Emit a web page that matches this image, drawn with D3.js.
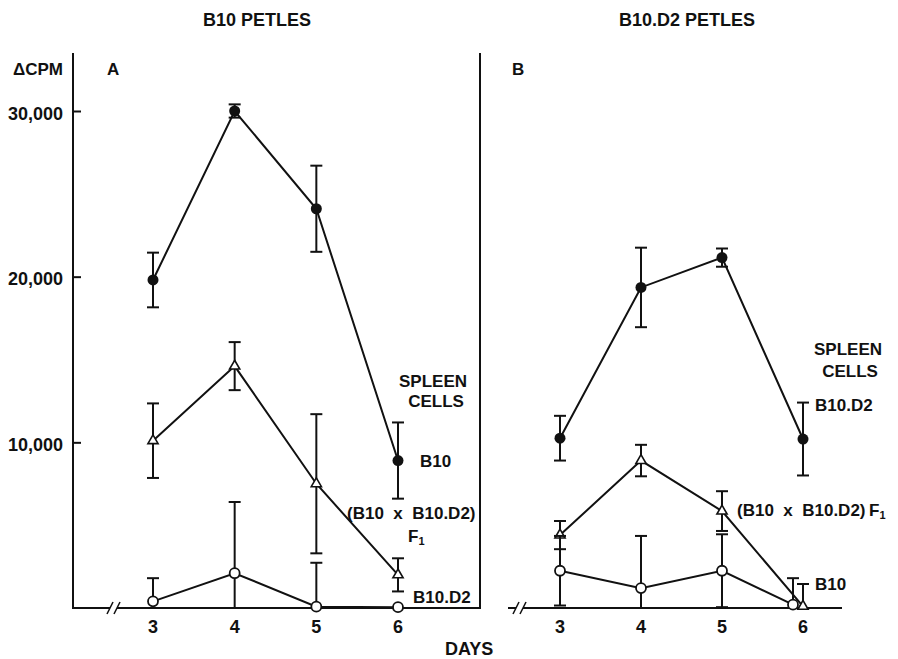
<!DOCTYPE html>
<html>
<head>
<meta charset="utf-8">
<script src="https://cdn.jsdelivr.net/npm/d3@7"></script>
<style>
  html, body { margin: 0; padding: 0; background: #fff; }
  svg { display: block; }
  text { font-family: "Liberation Sans", Arial, Helvetica, sans-serif; font-weight: bold; fill: #111; }
</style>
</head>
<body>
<svg id="chart" width="898" height="659"></svg>
<script>
// Proliferation (ΔCPM) of spleen cells over days of culture
const days = [3, 4, 5, 6];
const yTicks = [10000, 20000, 30000];
const yTickLabels = ["10,000", "20,000", "30,000"];

// Panel A: B10 PETLES
const aB10 = [19800, 30000, 24100, 8900];
const aB10Err = [1650, 400, 2600, 2300];
const aF1 = [10100, 14600, 7500, 2000];
const aF1Err = [2250, 1450, 4200, 1000];
const aB10D2 = [400, 2100, 80, 50];
const aB10D2Err = [1400, 4300, 2650, 0];

// Panel B: B10.D2 PETLES
const bB10D2 = [10250, 19350, 21150, 10200];
const bB10D2Err = [1350, 2400, 550, 2200];
const bF1 = [4400, 8900, 5850, 100];
const bF1Err = [850, 950, 1200, 1350];
const bB10 = [2250, 1200, 2250, 200];
const bB10Err = [2100, 3150, 2200, 1600];

const svg = d3.select("#chart");
svg.append("rect").attr("width", 898).attr("height", 659).attr("fill", "#fff");

const y = d3.scaleLinear().domain([0, 30000]).range([608, 111]);
const yTopValue = 33500;

const ink = "#111";
const lw = 2;

// Left y axis
const yAxis = d3.axisRight(y).tickValues(yTicks).tickSize(8).tickFormat("");
const gy = svg.append("g").attr("transform", "translate(73,0)").call(yAxis);
gy.select(".domain").remove();
gy.selectAll("line").attr("stroke", ink).attr("stroke-width", lw);
svg.append("line").attr("x1", 73).attr("x2", 73)
  .attr("y1", y(yTopValue)).attr("y2", y(0) + 1)
  .attr("stroke", ink).attr("stroke-width", lw);
svg.selectAll("text.ytick").data(yTicks).join("text")
  .attr("class", "ytick")
  .attr("x", 63).attr("y", d => y(d) + 8.5)
  .attr("text-anchor", "end").attr("font-size", 18)
  .text((d, i) => yTickLabels[i]);

svg.append("text").attr("x", 13).attr("y", 75).attr("font-size", 17).text("ΔCPM");

// Divider between the panels
svg.append("line").attr("x1", 480).attr("x2", 480)
  .attr("y1", y(yTopValue)).attr("y2", y(0) + 1)
  .attr("stroke", ink).attr("stroke-width", lw);

const panels = [
  {
    key: "A", title: "B10 PETLES", titleX: 257, letterX: 107,
    range: [153, 398], base: [73, 480], breakX: [110, 117],
    series: [
      { vals: aB10, err: aB10Err, mark: "filled" },
      { vals: aF1, err: aF1Err, mark: "triangle" },
      { vals: aB10D2, err: aB10D2Err, mark: "open" }
    ]
  },
  {
    key: "B", title: "B10.D2 PETLES", titleX: 687, letterX: 512,
    range: [560, 803], base: [508, 842], breakX: [516, 523],
    series: [
      { vals: bB10D2, err: bB10D2Err, mark: "filled" },
      { vals: bF1, err: bF1Err, mark: "triangle" },
      { vals: bB10, err: bB10Err, mark: "open", lastShift: -10 }
    ]
  }
];

panels.forEach(p => {
  const x = d3.scaleLinear().domain([3, 6]).range(p.range);
  const g = svg.append("g").attr("class", "panel-" + p.key);

  g.append("text").attr("x", p.titleX).attr("y", 26)
    .attr("text-anchor", "middle").attr("font-size", 18).text(p.title);
  g.append("text").attr("x", p.letterX).attr("y", 75)
    .attr("font-size", 17).text(p.key);

  // Baseline with axis break
  g.append("line").attr("x1", p.base[0]).attr("x2", p.base[1])
    .attr("y1", y(0)).attr("y2", y(0))
    .attr("stroke", ink).attr("stroke-width", lw);
  g.append("rect").attr("x", p.breakX[0]).attr("y", y(0) - 2)
    .attr("width", p.breakX[1] - p.breakX[0]).attr("height", 4).attr("fill", "#fff");
  p.breakX.forEach(bx => {
    g.append("line").attr("x1", bx - 3).attr("x2", bx + 3)
      .attr("y1", y(0) + 6).attr("y2", y(0) - 6)
      .attr("stroke", ink).attr("stroke-width", 1.6);
  });

  // X tick labels
  g.selectAll("text.xtick").data(days).join("text")
    .attr("class", "xtick")
    .attr("x", d => x(d)).attr("y", 633)
    .attr("text-anchor", "middle").attr("font-size", 18).text(d => d);

  p.series.forEach(s => {
    const pts = s.vals.map((v, i) => ({
      px: x(days[i]) + (i === days.length - 1 && s.lastShift ? s.lastShift : 0),
      v, e: s.err[i]
    }));

    g.append("path")
      .attr("d", d3.line().x(d => d.px).y(d => y(d.v))(pts))
      .attr("fill", "none").attr("stroke", ink).attr("stroke-width", lw);

    // Error bars (clipped at zero)
    pts.forEach(d => {
      if (!d.e) return;
      const hi = d.v + d.e, lo = Math.max(0, d.v - d.e);
      g.append("line").attr("x1", d.px).attr("x2", d.px)
        .attr("y1", y(hi)).attr("y2", y(lo))
        .attr("stroke", ink).attr("stroke-width", lw);
      g.append("line").attr("x1", d.px - 6).attr("x2", d.px + 6)
        .attr("y1", y(hi)).attr("y2", y(hi))
        .attr("stroke", ink).attr("stroke-width", lw);
      if (d.v - d.e > 0) {
        g.append("line").attr("x1", d.px - 6).attr("x2", d.px + 6)
          .attr("y1", y(lo)).attr("y2", y(lo))
          .attr("stroke", ink).attr("stroke-width", lw);
      }
    });

    // Markers
    pts.forEach(d => {
      if (s.mark === "filled") {
        g.append("circle").attr("cx", d.px).attr("cy", y(d.v)).attr("r", 5.5).attr("fill", ink);
      } else if (s.mark === "open") {
        g.append("circle").attr("cx", d.px).attr("cy", y(d.v)).attr("r", 5)
          .attr("fill", "#fff").attr("stroke", ink).attr("stroke-width", 1.8);
      } else {
        g.append("path").attr("d", d3.symbol(d3.symbolTriangle, 45)())
          .attr("transform", `translate(${d.px},${y(d.v)})`)
          .attr("fill", "#fff").attr("stroke", ink).attr("stroke-width", 1.6);
      }
    });
  });
});

// Series labels
function label(x, yb, txt, anchor) {
  return svg.append("text").attr("x", x).attr("y", yb).attr("font-size", 17)
    .attr("text-anchor", anchor || "start").style("white-space", "pre").text(txt);
}
function f1Label(x, yb) {
  const t = svg.append("text").attr("x", x).attr("y", yb).attr("font-size", 17);
  t.append("tspan").text("F");
  t.append("tspan").attr("font-size", 11).attr("dy", 3).text("1");
}

label(433, 387, "SPLEEN", "middle");
label(436, 407, "CELLS", "middle");
label(420, 467, "B10");
label(347, 519, "(B10  x  B10.D2)");
f1Label(408, 542);
label(413, 603, "B10.D2");

label(848, 355, "SPLEEN", "middle");
label(850, 377, "CELLS", "middle");
label(815, 411, "B10.D2");
label(737, 516, "(B10  x  B10.D2)");
f1Label(869, 516);
label(815, 590, "B10");

svg.append("text").attr("x", 445).attr("y", 655).attr("font-size", 18).text("DAYS");
</script>
</body>
</html>
